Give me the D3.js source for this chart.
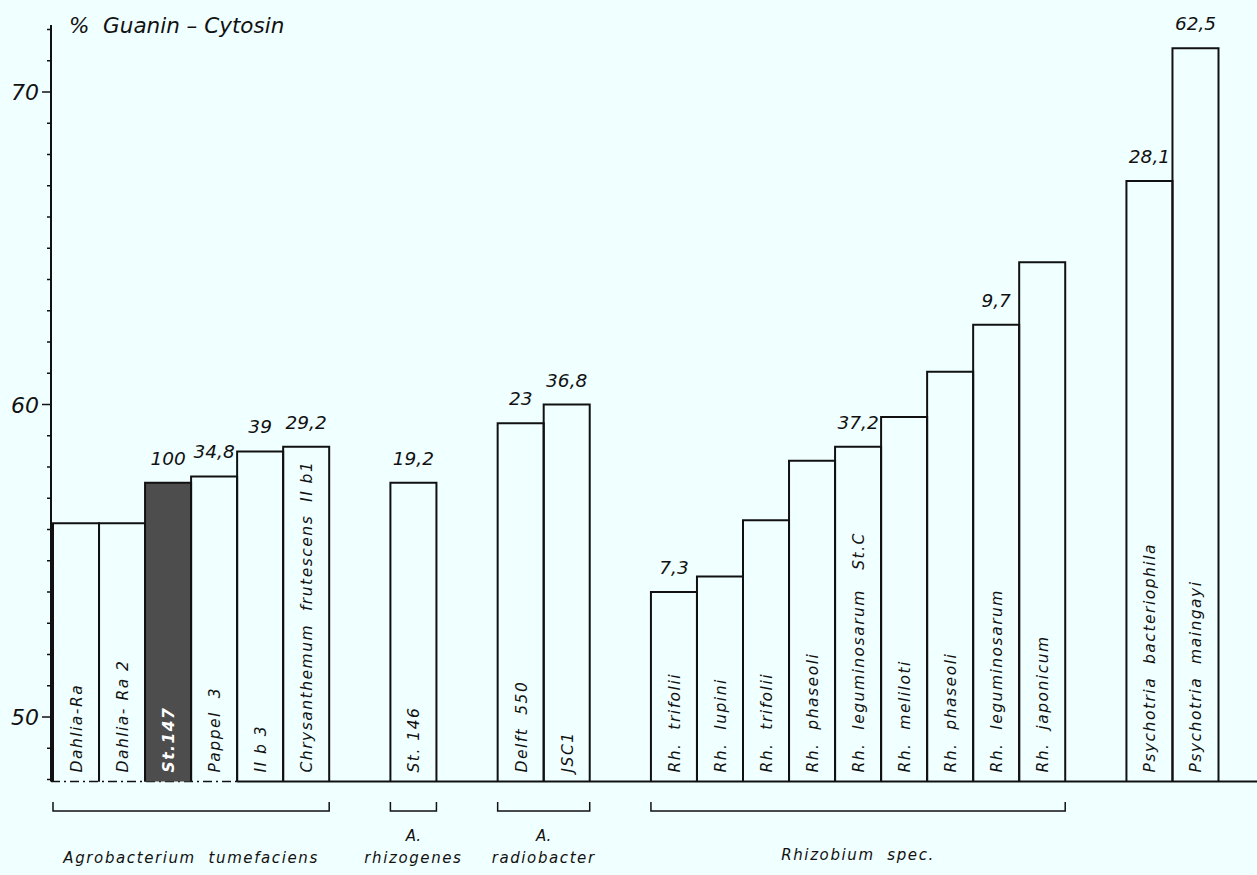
<!DOCTYPE html>
<html>
<head>
<meta charset="utf-8">
<script src="https://cdn.jsdelivr.net/npm/d3@7/dist/d3.min.js"></script>
<style>
  html, body { margin: 0; padding: 0; background: #f0ffff; }
  svg { display: block; }
  text { font-family: "DejaVu Sans", sans-serif; font-style: italic; fill: #111; }
</style>
</head>
<body>
<script>
// ---------- data ----------
const barNames = [
  "Dahlia-Ra", "Dahlia- Ra 2", "St.147", "Pappel  3", "II b 3",
  "Chrysanthemum  frutescens  II b1",
  "St. 146",
  "Delft  550", "JSC1",
  "Rh.  trifolii", "Rh.  lupini", "Rh.  trifolii", "Rh.  phaseoli",
  "Rh.  leguminosarum   St.C", "Rh.  meliloti", "Rh.  phaseoli",
  "Rh.  leguminosarum", "Rh.  japonicum",
  "Psychotria  bacteriophila", "Psychotria  maingayi"
];
const gcValues = [
  56.2, 56.2, 57.5, 57.7, 58.5, 58.65,
  57.5,
  59.4, 60.0,
  54.0, 54.5, 56.3, 58.2, 58.65, 59.6, 61.05, 62.55, 64.55,
  67.15, 71.4
];
const annotations = [
  null, null, "100", "34,8", "39", "29,2",
  "19,2",
  "23", "36,8",
  "7,3", null, null, null, "37,2", null, null, "9,7", null,
  "28,1", "62,5"
];
const groupIndex = [0,0,0,0,0,0, 1, 2,2, 3,3,3,3,3,3,3,3,3, 4,4];
const groupLine1 = [null, "A.", "A.", null, null];
const groupLine2 = ["Agrobacterium  tumefaciens", "rhizogenes", "radiobacter", "Rhizobium  spec.", null];
const groupBracket = [true, true, true, true, false];
const highlighted = ["St.147"];
const majorTicks = [50, 60, 70];
const yTitle = "%  Guanin – Cytosin";

// ---------- layout ----------
const W = 1257, H = 875;
const axisX = 51, baseY = 781.5;
const gapUnits = 1.33;

const svg = d3.select("body").append("svg").attr("width", W).attr("height", H);

const y = d3.scaleLinear().domain([50, 70]).range([717, 92]);
const yBottom = y.invert(baseY);
const yTop = y.invert(25);

// slot positions for bars (groups separated by gaps)
const slotStart = barNames.map((d, i) => i + groupIndex[i] * gapUnits);
const totalUnits = barNames.length + (d3.max(groupIndex)) * gapUnits;
const x = d3.scaleLinear().domain([0, totalUnits]).range([53, 1218.5]);

const bars = barNames.map((name, i) => ({
  name, value: gcValues[i], ann: annotations[i], g: groupIndex[i],
  x0: x(slotStart[i]), x1: x(slotStart[i] + 1)
}));

// ---------- axis ----------
const axisG = svg.append("g");
axisG.append("line")
  .attr("x1", axisX).attr("x2", axisX)
  .attr("y1", y(yTop)).attr("y2", baseY)
  .attr("stroke", "#111").attr("stroke-width", 2);
const minor = d3.range(Math.ceil(yBottom), Math.floor(yTop) + 1);
axisG.selectAll(".minor").data(minor).join("line")
  .attr("x1", d => axisX - (majorTicks.includes(d) ? 9 : 4))
  .attr("x2", axisX)
  .attr("y1", d => y(d)).attr("y2", d => y(d))
  .attr("stroke", "#111").attr("stroke-width", 1.5);
axisG.selectAll(".tl").data(majorTicks).join("text")
  .attr("x", 39).attr("y", d => y(d) + 8)
  .attr("text-anchor", "end")
  .style("font-size", "22px")
  .text(d => d);

svg.append("text")
  .attr("x", 69).attr("y", 33)
  .style("font-size", "21.5px")
  .style("white-space", "pre")
  .text(yTitle);

// ---------- baseline ----------
svg.append("line")
  .attr("x1", axisX).attr("x2", bars[4].x0)
  .attr("y1", baseY).attr("y2", baseY)
  .attr("stroke", "#111").attr("stroke-width", 1.5)
  .attr("stroke-dasharray", "9,4,2,4");
svg.append("line")
  .attr("x1", bars[4].x0).attr("x2", W)
  .attr("y1", baseY).attr("y2", baseY)
  .attr("stroke", "#111").attr("stroke-width", 2);

// ---------- bars ----------
const barG = svg.append("g");
barG.selectAll("path.bar").data(bars).join("path")
  .attr("d", d => `M${d.x0},${baseY} V${y(d.value)} H${d.x1} V${baseY}`)
  .attr("fill", d => highlighted.includes(d.name) ? "#4d4d4d" : "none")
  .attr("stroke", "#111").attr("stroke-width", 2);

// labels inside bars (rotated)
barG.selectAll("text.in").data(bars).join("text")
  .attr("transform", d => `translate(${(d.x0 + d.x1) / 2 + 1},${baseY - 9}) rotate(-90)`)
  .attr("dominant-baseline", "central")
  .style("font-size", "15.5px")
  .style("letter-spacing", "1.5px")
  .style("white-space", "pre")
  .style("fill", d => highlighted.includes(d.name) ? "#fff" : "#111")
  .style("font-weight", d => highlighted.includes(d.name) ? "bold" : "normal")
  .text(d => d.name);

// value annotations
barG.selectAll("text.ann").data(bars.filter(d => d.ann)).join("text")
  .attr("x", d => (d.x0 + d.x1) / 2)
  .attr("y", d => y(d.value) - 18)
  .attr("text-anchor", "middle")
  .style("font-size", "18.5px")
  .text(d => d.ann);

// ---------- group brackets ----------
const groups = d3.range(groupLine2.length).map(g => {
  const b = bars.filter(d => d.g === g);
  return { g, x0: b[0].x0, x1: b[b.length - 1].x1 };
});
const brY = 811;
const brG = svg.append("g");
brG.selectAll("path").data(groups.filter(d => groupBracket[d.g])).join("path")
  .attr("d", d => `M${d.x0},${brY - 9} V${brY} H${d.x1} V${brY - 9}`)
  .attr("fill", "none").attr("stroke", "#111").attr("stroke-width", 1.5);
brG.selectAll("text.l1").data(groups.filter(d => groupLine1[d.g])).join("text")
  .attr("x", d => (d.x0 + d.x1) / 2).attr("y", 841)
  .attr("text-anchor", "middle")
  .style("font-size", "15px")
  .text(d => groupLine1[d.g]);
brG.selectAll("text.l2").data(groups.filter(d => groupLine2[d.g])).join("text")
  .attr("x", d => (d.x0 + d.x1) / 2).attr("y", d => d.g === 3 ? 860 : 863)
  .attr("text-anchor", "middle")
  .style("font-size", "15px")
  .style("letter-spacing", "1.6px")
  .style("white-space", "pre")
  .text(d => groupLine2[d.g]);
</script>
</body>
</html>
